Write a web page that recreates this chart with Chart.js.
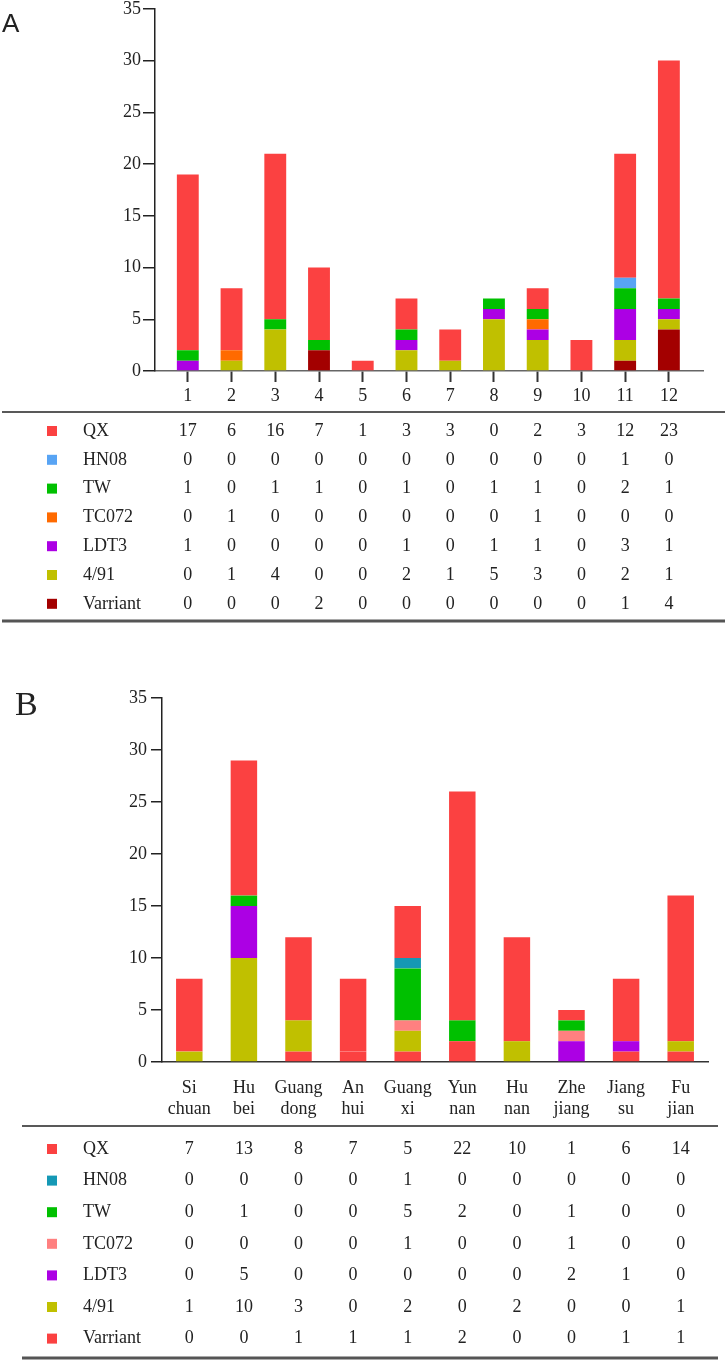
<!DOCTYPE html>
<html lang="en">
<head>
    <meta charset="UTF-8">
    <title>IBV genotype distribution</title>
    <script src="https://cdn.jsdelivr.net/npm/chart.js@4.4.1/dist/chart.umd.min.js"></script>
    <style>
        body { margin: 0; background: #fff; overflow: hidden; }
        .panel { position: absolute; left: 0; }
    </style>
</head>
<body>
    <!-- Panel A: by month -->
    <canvas id="chartA" class="panel" width="727" height="644" style="top:-4px"></canvas>
    <!-- Panel B: by province -->
    <canvas id="chartB" class="panel" width="727" height="680" style="top:680px"></canvas>

    <script>
        // ---- data, panel A (months) ----
        const monthsA = ['1', '2', '3', '4', '5', '6', '7', '8', '9', '10', '11', '12'];
        const qxA     = [17, 6, 16, 7, 1, 3, 3, 0, 2, 3, 12, 23];
        const hn08A   = [0, 0, 0, 0, 0, 0, 0, 0, 0, 0, 1, 0];
        const twA     = [1, 0, 1, 1, 0, 1, 0, 1, 1, 0, 2, 1];
        const tc072A  = [0, 1, 0, 0, 0, 0, 0, 0, 1, 0, 0, 0];
        const ldt3A   = [1, 0, 0, 0, 0, 1, 0, 1, 1, 0, 3, 1];
        const g491A   = [0, 1, 4, 0, 0, 2, 1, 5, 3, 0, 2, 1];
        const varA    = [0, 0, 0, 2, 0, 0, 0, 0, 0, 0, 1, 4];

        // ---- data, panel B (provinces) ----
        const provincesB = [['Si', 'chuan'], ['Hu', 'bei'], ['Guang', 'dong'], ['An', 'hui'], ['Guang', 'xi'],
                            ['Yun', 'nan'], ['Hu', 'nan'], ['Zhe', 'jiang'], ['Jiang', 'su'], ['Fu', 'jian']];
        const qxB     = [7, 13, 8, 7, 5, 22, 10, 1, 6, 14];
        const hn08B   = [0, 0, 0, 0, 1, 0, 0, 0, 0, 0];
        const twB     = [0, 1, 0, 0, 5, 2, 0, 1, 0, 0];
        const tc072B  = [0, 0, 0, 0, 1, 0, 0, 1, 0, 0];
        const ldt3B   = [0, 5, 0, 0, 0, 0, 0, 2, 1, 0];
        const g491B   = [1, 10, 3, 0, 2, 0, 2, 0, 0, 1];
        const varB    = [0, 0, 1, 1, 1, 2, 0, 0, 1, 1];

        const yTicks = { min: 0, max: 35, step: 5 };

        const SERIF = '"Liberation Serif", Tinos, "Times New Roman", serif';
        Chart.defaults.font.family = SERIF;
        Chart.defaults.font.size = 18;
        Chart.defaults.color = '#222';

        // stacked from the bottom: Varriant first, QX on top
        function makeDatasets(series) {
            return series.map(s => ({
                label: s.name,
                data: s.values.map((v, i) => ({ x: i + 1, y: v })),
                backgroundColor: s.color,
                borderWidth: 0
            }));
        }

        // draws the data table under the chart from the same datasets
        function tablePlugin(t) {
            return {
                id: 'table',
                afterDraw(chart) {
                    const ctx = chart.ctx;
                    const xs = chart.scales.x;
                    const rows = chart.data.datasets.slice().reverse();
                    ctx.save();
                    ctx.strokeStyle = '#222';
                    ctx.lineWidth = 1.5;
                    ctx.beginPath();
                    ctx.moveTo(t.left, t.topLine);
                    ctx.lineTo(t.right, t.topLine);
                    ctx.stroke();
                    ctx.strokeStyle = '#555';
                    ctx.lineWidth = 3;
                    ctx.beginPath();
                    ctx.moveTo(t.left, t.bottomLine);
                    ctx.lineTo(t.right, t.bottomLine);
                    ctx.stroke();

                    ctx.font = '18px ' + SERIF;
                    ctx.textBaseline = 'middle';
                    rows.forEach((ds, r) => {
                        const y = t.firstRow + r * t.rowStep;
                        ctx.fillStyle = ds.backgroundColor;
                        ctx.fillRect(47, y - 5, 10, 10);
                        ctx.fillStyle = '#222';
                        ctx.textAlign = 'left';
                        ctx.fillText(ds.label, 83, y);
                        ctx.textAlign = 'center';
                        ds.data.forEach(p => ctx.fillText(String(p.y), xs.getPixelForValue(p.x), y));
                    });

                    ctx.font = t.letterFont;
                    ctx.textAlign = 'left';
                    ctx.textBaseline = 'alphabetic';
                    ctx.fillText(t.letter, t.letterX, t.letterY);
                    ctx.restore();
                }
            };
        }

        function makeChart(id, p) {
            return new Chart(id, {
                type: 'bar',
                data: { datasets: makeDatasets(p.series) },
                options: {
                    responsive: false,
                    animation: false,
                    layout: { padding: { top: p.padTop, right: p.padRight, bottom: 0, left: 0 } },
                    plugins: { legend: { display: false }, tooltip: { enabled: false } },
                    datasets: { bar: { categoryPercentage: 1, barPercentage: p.barPct } },
                    scales: {
                        x: {
                            type: 'linear',
                            stacked: true,
                            offset: false,
                            min: p.xMin,
                            max: p.xMax,
                            afterBuildTicks: s => { s.ticks = p.labels.map((l, i) => ({ value: i + 1 })); },
                            afterFit: s => { s.height = p.xHeight; },
                            ticks: {
                                autoSkip: false,
                                maxRotation: 0,
                                padding: p.xPad,
                                callback: (v, i) => p.labels[i]
                            },
                            grid: {
                                offset: false,
                                drawOnChartArea: false,
                                drawTicks: p.xTickMarks,
                                tickLength: 11,
                                tickWidth: 2,
                                color: '#333'
                            },
                            border: { color: p.xBorder, width: 1.5 }
                        },
                        y: {
                            stacked: true,
                            min: yTicks.min,
                            max: yTicks.max,
                            afterFit: s => { s.width = p.yWidth; },
                            ticks: { stepSize: yTicks.step, padding: p.yPad },
                            grid: { drawOnChartArea: false, tickLength: p.yTick, color: '#222', lineWidth: 1.5 },
                            border: { color: '#222', width: 1.5 }
                        }
                    }
                },
                plugins: [tablePlugin(p.table)]
            });
        }

        makeChart('chartA', {
            labels: monthsA,
            series: [
                { name: 'Varriant', values: varA,   color: '#A30000' },
                { name: '4/91',     values: g491A,  color: '#C0C000' },
                { name: 'LDT3',     values: ldt3A,  color: '#AC00E4' },
                { name: 'TC072',    values: tc072A, color: '#FF6A00' },
                { name: 'TW',       values: twA,    color: '#00C000' },
                { name: 'HN08',     values: hn08A,  color: '#58A4F4' },
                { name: 'QX',       values: qxA,    color: '#FB4141' }
            ],
            padTop: 11, padRight: 24, yWidth: 155, xHeight: 269,
            xMin: 0.25, xMax: 12.78, barPct: 0.5,
            xPad: 3, xTickMarks: true, xBorder: '#666',
            yPad: 2, yTick: 12,
            table: {
                left: 2, right: 725, topLine: 416, bottomLine: 625, firstRow: 435, rowStep: 28.8,
                letter: 'A', letterFont: '26px "Liberation Sans", Arial, sans-serif', letterX: 2, letterY: 36
            }
        });

        makeChart('chartB', {
            labels: provincesB,
            series: [
                { name: 'Varriant', values: varB,   color: '#FB4141' },
                { name: '4/91',     values: g491B,  color: '#C0C000' },
                { name: 'LDT3',     values: ldt3B,  color: '#AC00E4' },
                { name: 'TC072',    values: tc072B, color: '#FF8080' },
                { name: 'TW',       values: twB,    color: '#00C000' },
                { name: 'HN08',     values: hn08B,  color: '#1598B5' },
                { name: 'QX',       values: qxB,    color: '#FB4141' }
            ],
            padTop: 18, padRight: 19, yWidth: 162, xHeight: 298,
            xMin: 0.5, xMax: 10.5, barPct: 0.485,
            xPad: 15, xTickMarks: false, xBorder: '#333',
            yPad: 4, yTick: 11,
            table: {
                left: 22, right: 718, topLine: 446, bottomLine: 678, firstRow: 469, rowStep: 31.6,
                letter: 'B', letterFont: '34px ' + SERIF, letterX: 15, letterY: 35
            }
        });
    </script>
</body>
</html>
